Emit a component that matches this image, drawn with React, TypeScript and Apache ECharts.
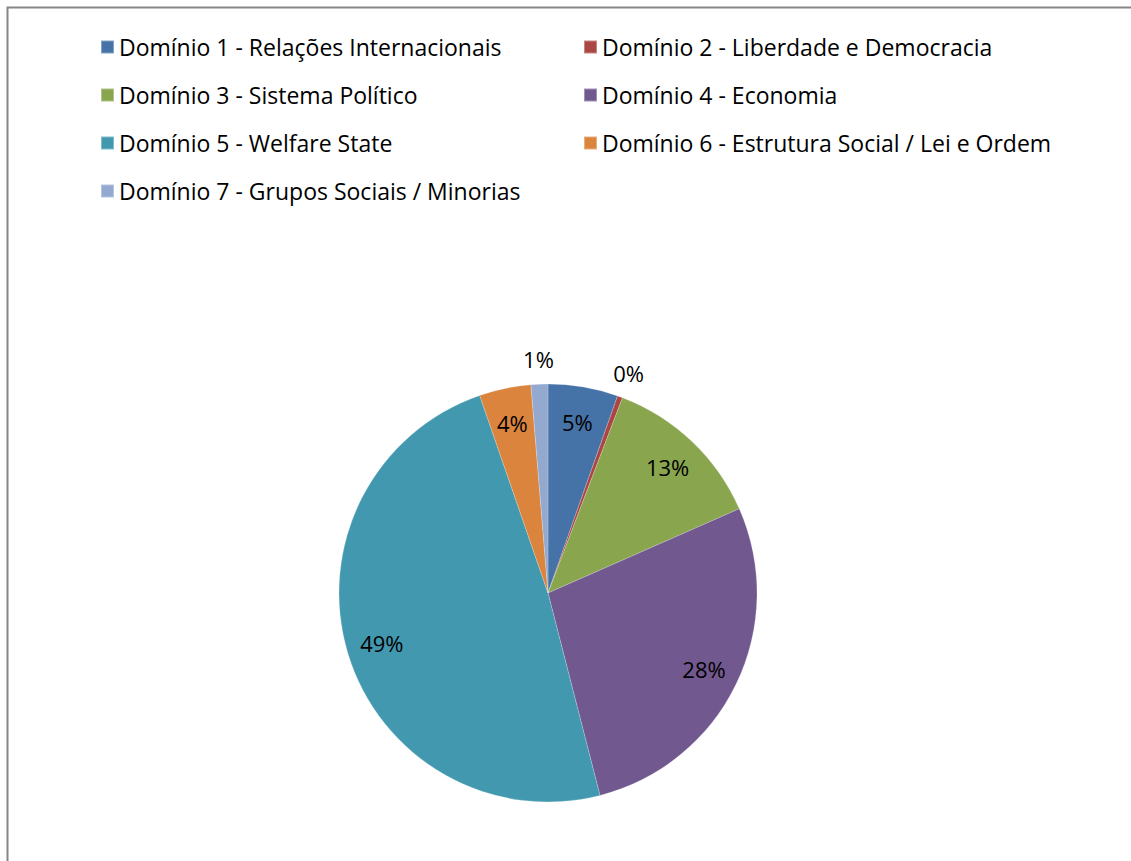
import React, { useEffect, useRef } from "react";
import * as echarts from "echarts";

const categories: string[] = [
  "Domínio 1 - Relações Internacionais",
  "Domínio 2 - Liberdade e Democracia",
  "Domínio 3 - Sistema Político",
  "Domínio 4 - Economia",
  "Domínio 5 - Welfare State",
  "Domínio 6 - Estrutura Social / Lei e Ordem",
  "Domínio 7 - Grupos Sociais / Minorias",
];

const shares: number[] = [5.4, 0.4, 12.6, 27.6, 48.7, 4.0, 1.3];

const colors: string[] = ["#4572A7", "#AA4643", "#89A54E", "#71588F", "#4198AF", "#DB843D", "#93A9CF"];

// slices whose label sits outside the pie
const outsideLabels: number[] = [1, 6];

const FONT = "'Open Sans', 'Noto Sans', sans-serif";

export default function App() {
  const ref = useRef<HTMLDivElement>(null);

  useEffect(() => {
    if (!ref.current) return;
    const chart = echarts.init(ref.current, undefined, { renderer: "svg" });

    const center = [548, 593];
    const R = 209;
    const fmt = (p: any) => Math.round(p.percent) + "%";
    const labelStyle = { color: "#000", fontSize: 22, fontFamily: FONT };

    const mainData = categories.map((name, i) => ({
      name,
      value: shares[i],
      itemStyle: { color: colors[i] },
    }));

    const innerLabelData = categories.map((name, i) => ({
      name,
      value: shares[i],
      label: { show: !outsideLabels.includes(i) },
    }));
    const outerLabelData = categories.map((name, i) => ({
      name,
      value: shares[i],
      label: { show: outsideLabels.includes(i) },
    }));

    const labelSeriesBase = {
      type: "pie",
      center,
      startAngle: 90,
      clockwise: true,
      silent: true,
      avoidLabelOverlap: false,
      emphasis: { disabled: true },
      itemStyle: { color: "rgba(0,0,0,0)", borderWidth: 0 },
      labelLine: { show: false },
      label: { position: "inside", formatter: fmt, ...labelStyle },
    };

    chart.setOption({
      animation: false,
      backgroundColor: "#ffffff",
      legend: {
        data: categories,
        left: 100,
        top: 23,
        width: 980,
        padding: 0,
        orient: "horizontal",
        icon: "rect",
        itemWidth: 13,
        itemHeight: 13,
        itemGap: 0,
        selectedMode: false,
        textStyle: {
          color: "#000",
          fontSize: 23,
          fontFamily: FONT,
          width: 464,
          lineHeight: 48,
        },
      },
      graphic: [
        {
          type: "rect",
          shape: { x: 7.5, y: 7.5, width: 1300, height: 1000 },
          style: { fill: "none", stroke: "#868686", lineWidth: 2 },
          silent: true,
        },
      ],
      series: [
        {
          type: "pie",
          name: "main",
          center,
          radius: R,
          startAngle: 90,
          clockwise: true,
          silent: true,
          emphasis: { disabled: true },
          label: { show: false },
          labelLine: { show: false },
          itemStyle: { borderColor: "rgba(255,255,255,0.35)", borderWidth: 0.6 },
          data: mainData,
        },
        { ...labelSeriesBase, name: "inner", radius: [132, R], data: innerLabelData },
        { ...labelSeriesBase, name: "outer", radius: [R, 253], data: outerLabelData },
      ],
    });

    return () => chart.dispose();
  }, []);

  return (
    <div
      ref={ref}
      style={{ position: "fixed", left: 0, top: 0, width: 1131, height: 861 }}
    />
  );
}
